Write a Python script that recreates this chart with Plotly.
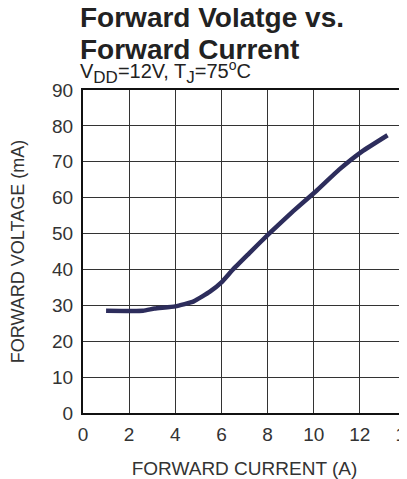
import plotly.graph_objects as go

current_a = [1.0, 2.6, 3.1, 4.0, 4.8, 5.5, 6.0, 6.5, 7.2, 8.1, 9.1, 10.1, 11.1, 12.1, 13.2]
voltage_ma = [28.5, 28.5, 29.1, 29.7, 31.1, 33.8, 36.4, 40.0, 44.5, 50.2, 56.2, 61.8, 67.8, 72.9, 77.4]
x_ticks = [0, 2, 4, 6, 8, 10, 12, 14]
y_ticks = [0, 10, 20, 30, 40, 50, 60, 70, 80, 90]

FONT = "Liberation Sans, Arial, sans-serif"
# page body has an 8px margin, so the figure is placed at (8, 8)
W, H = 399, 471
ML, MR, MT, MB = 75, 1, 82, 66
PH = H - MT - MB

def py(ypx):
    # ypx: pixel position in the page; convert to paper coords
    return (H - MB - (ypx - 8)) / PH

fig = go.Figure()
fig.add_trace(go.Scatter(x=current_a, y=voltage_ma, mode="lines",
                         line=dict(color="#2d2d5c", width=4.5, shape="spline", smoothing=0.4),
                         showlegend=False, hoverinfo="skip"))

fig.update_layout(
    width=W, height=H,
    margin=dict(l=ML, r=MR, t=MT, b=MB),
    paper_bgcolor="white", plot_bgcolor="white",
    font=dict(family=FONT, color="#222222", size=19),
)
fig.update_xaxes(range=[0, 14], tickvals=x_ticks, showgrid=True, gridcolor="#333333", gridwidth=1,
                 showline=True, linecolor="#111111", linewidth=2, mirror=True, zeroline=False,
                 ticks="", ticklabelstandoff=3, automargin=False, ticklabeloverflow="allow",
                 tickfont=dict(size=19, color="#333333"),
                 title=dict(text="FORWARD CURRENT (A)", font=dict(size=19, color="#333333"), standoff=18))
fig.update_yaxes(range=[0, 90], tickvals=y_ticks, showgrid=True, gridcolor="#333333", gridwidth=1,
                 showline=True, linecolor="#111111", linewidth=2, mirror=True, zeroline=False,
                 ticks="", ticklabelstandoff=4, automargin=False, ticklabeloverflow="allow",
                 tickfont=dict(size=19, color="#333333"),
                 title=dict(text="FORWARD VOLTAGE (mA)", font=dict(size=18, color="#333333"), standoff=26))

fig.add_annotation(text="<b>Forward Volatge vs.</b>", xref="paper", yref="paper",
                   x=0, y=py(0), xanchor="left", yanchor="top", showarrow=False, xshift=-5,
                   font=dict(size=28, color="#222222", family=FONT))
fig.add_annotation(text="<b>Forward Current</b>", xref="paper", yref="paper",
                   x=0, y=py(32), xanchor="left", yanchor="top", showarrow=False, xshift=-5,
                   font=dict(size=28, color="#222222", family=FONT))
fig.add_annotation(text='V<sub><span style="font-size:17px">DD</span></sub>=12V, '
                        'T<sub><span style="font-size:17px">J</span></sub>=75<sup>o</sup>C',
                   xref="paper", yref="paper",
                   x=0, y=py(55), xanchor="left", yanchor="top", showarrow=False, xshift=-5,
                   font=dict(size=20, color="#222222", family=FONT))

fig.write_html("out.html")
